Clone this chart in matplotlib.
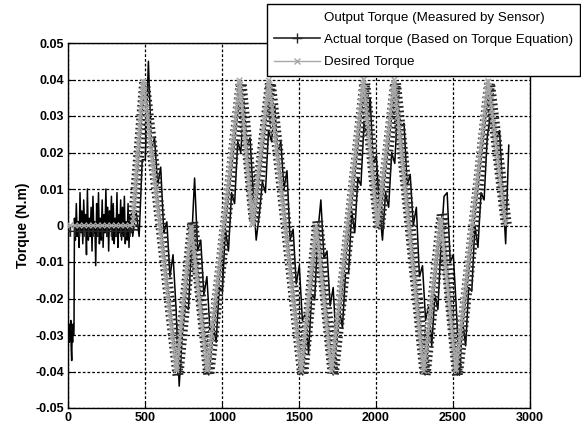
import numpy as np
import matplotlib
matplotlib.use("Agg")
import matplotlib.pyplot as plt
import matplotlib.patheffects as pe
from matplotlib.lines import Line2D

# desired torque (triangle reference), N.m
desired_x = [0, 420, 488, 705, 800, 905, 1115, 1200, 1305, 1515, 1612, 1712,
             1918, 2010, 2118, 2310, 2420, 2520, 2728, 2842]
desired_y = [0, 0, 0.04, -0.04, 0.0, -0.04, 0.04, 0.0, 0.04, -0.04, 0.0, -0.04,
             0.04, 0.0, 0.04, -0.04, 0.002, -0.04, 0.04, 0.0]

# actual torque from the torque equation
actual_x = [0, 420, 497, 714, 810, 914, 1124, 1210, 1314, 1524, 1622, 1722,
            1927, 2020, 2127, 2319, 2429, 2529, 2737, 2847]
actual_y = [-0.0016, -0.0016, 0.039, -0.041, 0.001, -0.041, 0.039, 0.001, 0.039,
            -0.041, 0.001, -0.041, 0.039, -0.001, 0.039, -0.041, 0.003, -0.041,
            0.039, 0.0]

# measured torque (sensor), values in 1e-3 N.m
start_x = [0, 3, 6, 9, 12, 15, 18, 21, 24, 27, 30, 33, 36, 39]
start_y = [-25, -29, -27, -32, -28, -30, -26, -34, -37, -29, -32, -27, -30, -28]

idle_x = list(range(42, 421, 6))
idle_y = [2, -4, 6, -3, 1, -6, 9, -2, 4, -5,
          7, -1, 3, -8, 10, -4, 2, -3, 5, -7,
          8, -2, 1, -11, 6, -3, 9, -5, 2, -4,
          7, -6, 3, -2, 10, -3, 5, -7, 4, -1,
          8, -4, 6, -5, 2, -3, 9, -6, 3, -2,
          7, -4, 5, -3, 8, -5, 1, -4, 6, -6,
          3, -2, 4, -3]

run_x = list(range(442, 2863, 20))
run_y = [4, -3, 18, 18, 45, 21, 24, 11, 16, -2,
         1, -14, -8, -23, -44, -30, -22, -23, -5, 13,
         -7, -4, -19, -14, -29, -27, -32, -17, -18, -1,
         -7, 9, 6, 23, 20, 34, 22, 24, 9, -4,
         3, 12, 9, 26, 23, 33, 20, 23, 10, 15,
         -4, -1, -16, -11, -26, -24, -35, -19, -20, -2,
         7, -9, -7, -22, -17, -33, -23, -28, -13, -13,
         4, -2, 13, 11, 28, 25, 35, 17, 19, 5,
         -4, 9, 5, 20, 17, 34, 27, 28, 11, 14,
         0, 5, -14, -11, -26, -22, -33, -19, -23, -5,
         8, 9, -10, -8, -23, -41, -26, -33, -17, -18,
         0, -6, 9, 7, 24, 30, 26, 24, 26, 10,
         -5, 22]

measured_x = start_x + idle_x + run_x
measured_y = np.array(start_y + idle_y + run_y) / 1000.0

xticks = [0, 500, 1000, 1500, 2000, 2500, 3000]
yticks = [-0.05, -0.04, -0.03, -0.02, -0.01, 0, 0.01, 0.02, 0.03, 0.04, 0.05]
ytick_labels = ["-0.05", "-0.04", "-0.03", "-0.02", "-0.01", "0",
                "0.01", "0.02", "0.03", "0.04", "0.05"]

plt.rcParams["font.family"] = ["Liberation Sans", "DejaVu Sans"]

actual_col = "#262626"
desired_col = "#a8a8a8"


def ticked(angles, color, spacing, length, lw):
    # dense marker-like ticks drawn along the line
    fx = [pe.Normal()]
    for a in angles:
        fx.append(pe.TickedStroke(spacing=spacing, angle=a, length=length,
                                  linewidth=lw, foreground=color))
    return fx


fig = plt.figure(figsize=(5.81, 4.29), dpi=100)
ax = fig.add_axes([68 / 581, 1 - 408 / 429, 462 / 581, 365 / 429])

ax.plot(measured_x, measured_y, color="black", lw=1.1, zorder=2)
ax.plot(actual_x, actual_y, color=actual_col, lw=1.0, zorder=3,
        path_effects=ticked([90, -90], actual_col, 3.3, 1.0, 1.3))
ax.plot(desired_x, desired_y, color=desired_col, lw=1.0, zorder=4,
        path_effects=ticked([45, 135, -45, -135], desired_col, 3.3, 0.7, 1.0))

ax.set_xlim(0, 3000)
ax.set_ylim(-0.05, 0.05)
ax.set_xticks(xticks)
ax.set_xticklabels([str(t) for t in xticks], fontweight="bold", fontsize=9)
ax.set_yticks(yticks)
ax.set_yticklabels(ytick_labels, fontweight="bold", fontsize=9)
ax.tick_params(direction="in", length=4, color="black", pad=3)
ax.grid(True, color="black", lw=0.9, linestyle=(0, (2.2, 1.6)))
ax.set_ylabel("Torque (N.m)", fontsize=10, fontweight="bold", labelpad=4)
for s in ax.spines.values():
    s.set_linewidth(1.0)
    s.set_color("black")

handles = [
    Line2D([], [], color="none"),
    Line2D([], [], color=actual_col, lw=1.2, marker="+", ms=7),
    Line2D([], [], color=desired_col, lw=1.0, marker="x", ms=4),
]
labels = ["Output Torque (Measured by Sensor)",
          "Actual torque (Based on Torque Equation)",
          "Desired Torque"]
leg = fig.legend(handles, labels, loc="upper right",
                 bbox_to_anchor=(580 / 581, 1 - 4 / 429), borderaxespad=0,
                 fontsize=9.6, fancybox=False, edgecolor="black", framealpha=1,
                 handlelength=3.4, handletextpad=0.3, labelspacing=0.75,
                 borderpad=0.55)
leg.get_frame().set_linewidth(1.0)

fig.savefig("out.png", dpi=100)
